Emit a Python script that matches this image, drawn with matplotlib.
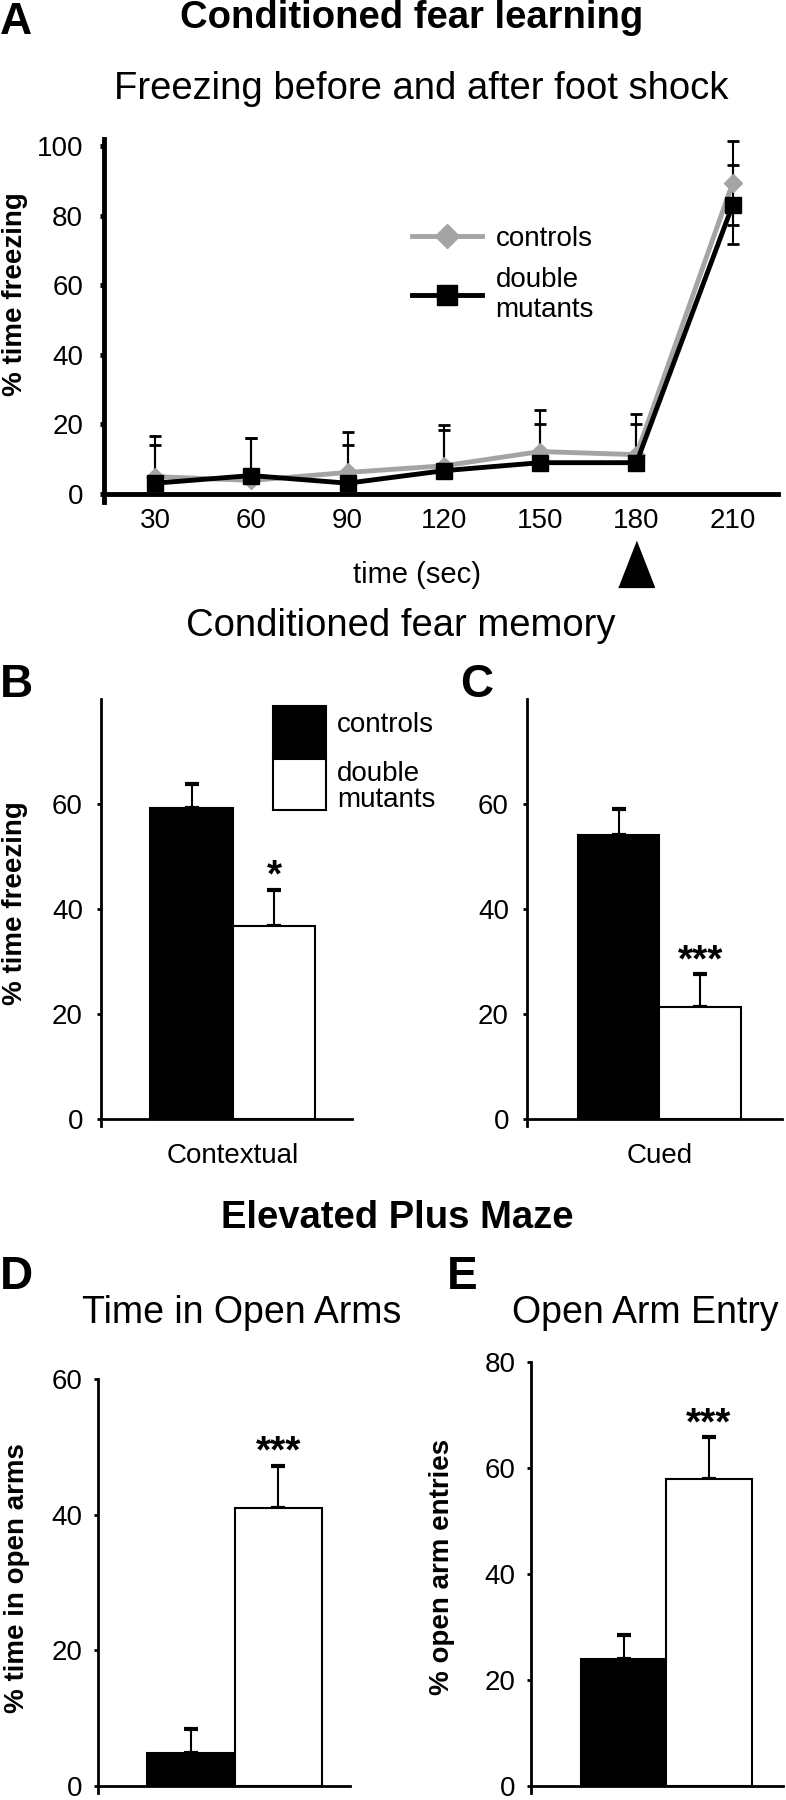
import matplotlib
matplotlib.use("Agg")
import matplotlib.pyplot as plt
import matplotlib.transforms as mtransforms
from matplotlib.patches import Rectangle

plt.rcParams['font.family'] = ['Liberation Sans', 'DejaVu Sans']

# ---- data ----
times = [30, 60, 90, 120, 150, 180, 210]
shock_time = 180

ctrl_freeze = [5.0, 3.9, 6.2, 8.1, 12.2, 11.3, 89.4]
ctrl_err_up = [11.7, 12.2, 11.6, 11.7, 11.8, 11.6, 12.0]
ctrl_err_lo = [0, 0, 0, 0, 0, 0, 12.0]

mut_freeze = [3.1, 5.3, 3.1, 6.7, 9.0, 9.0, 83.1]
mut_err_up = [11.0, 10.8, 11.0, 11.6, 11.1, 11.1, 11.3]
mut_err_lo = [0, 0, 0, 0, 0, 0, 11.3]

groups = ["controls", "double\nmutants"]
bar_colors = ["black", "white"]

contextual_mean = [59.2, 36.8]
contextual_sem = [4.7, 6.9]
cued_mean = [54.1, 21.4]
cued_sem = [4.9, 6.2]

open_time_mean = [4.9, 41.0]
open_time_sem = [3.5, 6.2]
open_entry_mean = [24.0, 57.9]
open_entry_sem = [4.5, 7.9]

W, H = 786, 1800
fig = plt.figure(figsize=(W / 100, H / 100), dpi=100)


def add_axes_px(left, top, right, bottom):
    return fig.add_axes([left / W, 1 - bottom / H, (right - left) / W, (bottom - top) / H])


def fig_text(x, y, s, **kw):
    kw.setdefault("ha", "center")
    kw.setdefault("va", "center")
    fig.text(x / W, 1 - y / H, s, **kw)


def style_axes(ax, lw, pad):
    for side in ["top", "right"]:
        ax.spines[side].set_visible(False)
    ax.spines["left"].set_linewidth(lw)
    ax.spines["bottom"].set_linewidth(lw)
    ax.spines["bottom"].set_position(("data", 0))
    ax.tick_params(axis="y", direction="out", length=3, width=lw, labelsize=20, pad=pad)
    ax.tick_params(axis="x", length=0, labelsize=20)


# ---------------- Panel A ----------------
axA = add_axes_px(104, 139, 778, 502)
x = list(range(len(times)))

axA.errorbar(x, ctrl_freeze, yerr=[ctrl_err_lo, ctrl_err_up], fmt="none",
             ecolor="black", elinewidth=1.5, capsize=4.5, capthick=2, zorder=1)
axA.errorbar(x, mut_freeze, yerr=[mut_err_lo, mut_err_up], fmt="none",
             ecolor="black", elinewidth=1.5, capsize=4.5, capthick=2, zorder=1)
axA.plot(x, ctrl_freeze, color="#a4a4a4", lw=3.5, marker="D", markersize=9,
         markerfacecolor="#a4a4a4", markeredgecolor="#a4a4a4", zorder=2, clip_on=False,
         label="controls")
axA.plot(x, mut_freeze, color="black", lw=3.5, marker="s", markersize=11,
         zorder=3, clip_on=False, label="double\nmutants")

axA.set_xlim(-0.53, 6.47)
axA.set_ylim(-2.3, 102)
axA.set_yticks([0, 20, 40, 60, 80, 100])
axA.set_xticks(x)
axA.set_xticklabels([str(t) for t in times])
style_axes(axA, 3.5, 12)
axA.tick_params(axis="x", pad=10)
axA.set_xlabel("time (sec)", fontsize=21)
axA.xaxis.set_label_coords((417 - 104) / 674, (502 - 561) / 363)

# shock marker under 180 s
trans = mtransforms.blended_transform_factory(axA.transData, axA.transAxes)
tri = [(-0.78, -1), (0.78, -1), (0, 1)]
axA.plot([times.index(shock_time)], [-0.172], transform=trans, marker=tri,
         markersize=33, color="black", clip_on=False)

axA.legend(loc="upper left", bbox_to_anchor=(0.42, 0.83), frameon=False,
           fontsize=20, handlelength=2.5, labelspacing=0.55, handletextpad=0.5,
           markerscale=1.35)

fig_text(15, 294, "% time freezing", rotation=90, fontsize=20, fontweight="bold")
fig_text(0, 22, "A", ha="left", fontsize=32, fontweight="bold")
fig_text(412, 18, "Conditioned fear learning", fontsize=27.5, fontweight="bold")
fig_text(421, 89, "Freezing before and after foot shock", fontsize=27.5)


# ---------------- bar panels ----------------
def bar_panel(ax, means, sems, ylim, yticks, xlim, stars, lw=2, pad=10):
    pos = list(range(len(means)))
    ax.bar(pos, means, width=1.0, color=bar_colors, edgecolor="black",
           linewidth=1.5, zorder=2)
    ax.errorbar(pos, means, yerr=[[0] * len(sems), sems], fmt="none", ecolor="black",
                elinewidth=1.5, capsize=5, capthick=3, zorder=1)
    ax.set_xlim(*xlim)
    ax.set_ylim(*ylim)
    ax.set_yticks(yticks)
    style_axes(ax, lw, pad)
    ax.set_xticks([])
    ax.annotate(stars, xy=(pos[1], means[1] + sems[1]), xytext=(0, -3.5),
                textcoords="offset points", ha="center", va="bottom",
                fontsize=28, fontweight="bold")
    return pos


axB = add_axes_px(101, 699, 352, 1126)
bar_panel(axB, contextual_mean, contextual_sem, (-1.3, 80), [0, 20, 40, 60],
          (-1.097, 1.945), "*", pad=10)
axB.set_xticks([0.5])
axB.set_xticklabels(["Contextual"], fontsize=20)
axB.tick_params(axis="x", pad=17)
fig_text(15, 903, "% time freezing", rotation=90, fontsize=20, fontweight="bold")

# legend swatches for B (stacked boxes like the original)
for i, (col, lab) in enumerate(zip(bar_colors, groups)):
    y0 = [0.859, 0.740][i]
    axB.add_patch(Rectangle((0.685, y0), 0.211, [0.125, 0.119][i], transform=axB.transAxes,
                            facecolor=col, edgecolor="black", linewidth=1.5, clip_on=False))
    axB.text(0.94, y0 + [0.08, 0.055][i], lab, transform=axB.transAxes, ha="left", va="center",
             fontsize=20, linespacing=1.0)

axC = add_axes_px(527, 699, 782, 1126)
bar_panel(axC, cued_mean, cued_sem, (-1.3, 80), [0, 20, 40, 60], (-1.12, 2.0), "***", pad=10)
axC.set_xticks([0.5])
axC.set_xticklabels(["Cued"], fontsize=20)
axC.tick_params(axis="x", pad=17)

fig_text(401, 626, "Conditioned fear memory", fontsize=27.5)
fig_text(0, 685, "B", ha="left", fontsize=33, fontweight="bold")
fig_text(460, 685, "C", ha="left", fontsize=33, fontweight="bold")

# ---------------- Elevated plus maze ----------------
fig_text(397, 1218, "Elevated Plus Maze", fontsize=27.5, fontweight="bold")
fig_text(0, 1277, "D", ha="left", fontsize=33, fontweight="bold")
fig_text(447, 1277, "E", ha="left", fontsize=33, fontweight="bold")
fig_text(242, 1313, "Time in Open Arms", fontsize=27)
fig_text(645, 1313, "Open Arm Entry", fontsize=27)

axD = add_axes_px(98, 1379, 350, 1793)
bar_panel(axD, open_time_mean, open_time_sem, (-1.0, 60), [0, 20, 40, 60],
          (-1.06, 1.82), "***", pad=8)
fig_text(17, 1578, "% time in open arms", rotation=90, fontsize=20, fontweight="bold")

axE = add_axes_px(531, 1362, 783, 1793)
bar_panel(axE, open_entry_mean, open_entry_sem, (-1.3, 80), [0, 20, 40, 60, 80],
          (-1.09, 1.87), "***", pad=8)
fig_text(442, 1567, "% open arm entries", rotation=90, fontsize=20, fontweight="bold")

fig.savefig("out.png", dpi=100)
